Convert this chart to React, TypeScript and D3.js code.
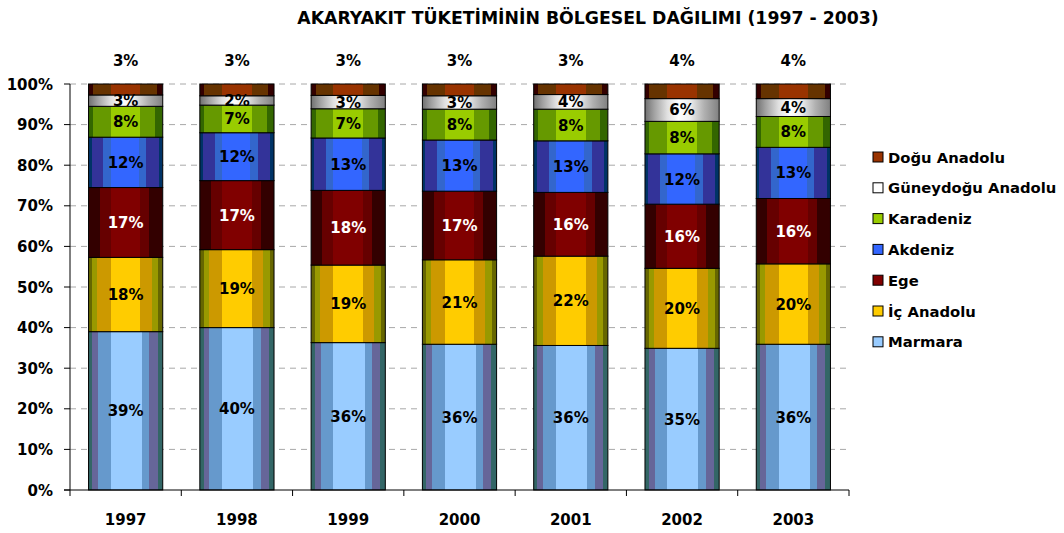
import React from "react";
import * as d3 from "d3";

const years = ["1997", "1998", "1999", "2000", "2001", "2002", "2003"];
const seriesNames = ["Marmara", "İç Anadolu", "Ege", "Akdeniz", "Karadeniz", "Güneydoğu Anadolu", "Doğu Anadolu"];
const marmara = [39.0, 40.0, 36.3, 35.9, 35.6, 34.9, 35.9];
const icAnadolu = [18.3, 19.2, 19.1, 20.8, 22.0, 19.7, 19.8];
const ege = [17.2, 17.0, 18.4, 16.9, 15.7, 15.8, 16.1];
const akdeniz = [12.4, 11.8, 12.9, 12.6, 12.7, 12.4, 12.6];
const karadeniz = [7.6, 6.8, 7.2, 7.6, 7.8, 8.0, 7.6];
const guneydogu = [2.8, 2.3, 3.3, 3.3, 3.6, 5.6, 4.4];
const dogu = [2.7, 2.9, 2.8, 2.9, 2.6, 3.6, 3.6];
const yTicks = [0, 10, 20, 30, 40, 50, 60, 70, 80, 90, 100];

const seriesValues = [marmara, icAnadolu, ege, akdeniz, karadeniz, guneydogu, dogu];

const stripes: [number, string][][] = [
  [[0, "#336666"], [0.05, "#666699"], [0.13, "#6699CC"], [0.3, "#99CCFF"], [0.72, "#6699CC"], [0.82, "#666699"], [0.93, "#336666"]],
  [[0, "#666600"], [0.05, "#999900"], [0.12, "#CC9900"], [0.3, "#FFCC00"], [0.7, "#CC9900"], [0.85, "#999900"], [0.94, "#666600"]],
  [[0, "#330000"], [0.15, "#660000"], [0.3, "#800000"], [0.7, "#660000"], [0.82, "#330000"]],
  [[0, "#003366"], [0.04, "#333399"], [0.2, "#3366CC"], [0.3, "#3366FF"], [0.68, "#3366CC"], [0.78, "#333399"], [0.95, "#003366"]],
  [[0, "#336600"], [0.06, "#669900"], [0.3, "#99CC00"], [0.7, "#669900"], [0.9, "#336600"]],
  [],
  [[0, "#330000"], [0.06, "#663300"], [0.3, "#993300"], [0.7, "#663300"], [0.92, "#330000"]],
];
const legendColors = ["#99CCFF", "#FFCC00", "#800000", "#3366FF", "#99CC00", "#FFFFFF", "#993300"];
const labelColors = ["#000", "#000", "#fff", "#000", "#000", "#000", "#000"];

const W = 1064, H = 533;
const left = 70, right = 849, top = 84, bottom = 490;
const font = "'DejaVu Sans', 'Liberation Sans', Arial, sans-serif";

export default function App() {
  const x = d3.scaleBand().domain(years).range([left, right]).padding(0);
  const y = d3.scaleLinear().domain([0, 100]).range([bottom, top]);
  const step = x.step();
  const barW = step * 2 / 3;

  const table = years.map((yr, i) => {
    const row: any = { year: yr };
    seriesNames.forEach((s, k) => (row[s] = seriesValues[k][i]));
    return row;
  });
  const stacked = d3.stack<any>().keys(seriesNames)(table);

  const gradDefs = seriesNames.map((s, k) => {
    const st = stripes[k];
    const stops: React.ReactNode[] = [];
    if (st.length === 0) {
      const g = [[0, "#707070"], [0.12, "#A0A0A0"], [0.3, "#E0E0E0"], [0.45, "#FFFFFF"], [0.6, "#F0F0F0"], [0.8, "#B0B0B0"], [1, "#808080"]];
      g.forEach(([o, c], j) => stops.push(<stop key={j} offset={o as number} stopColor={c as string} />));
    } else {
      st.forEach(([o, c], j) => {
        const end = j < st.length - 1 ? st[j + 1][0] : 1;
        stops.push(<stop key={j + "a"} offset={o} stopColor={c} />);
        stops.push(<stop key={j + "b"} offset={end} stopColor={c} />);
      });
    }
    return (
      <linearGradient id={"g" + k} key={k} x1="0" x2="1" y1="0" y2="0">
        {stops}
      </linearGradient>
    );
  });

  return (
    <svg width={W} height={H} style={{ position: "absolute", left: 0, top: 0, background: "#fff" }} fontFamily={font}>
      <defs>{gradDefs}</defs>
      <text x={588} y={24} textAnchor="middle" fontSize={17.3} fontWeight="bold" fill="#000">
        AKARYAKIT TÜKETİMİNİN BÖLGESEL DAĞILIMI (1997 - 2003)
      </text>
      {/* grid */}
      {yTicks.filter((t) => t > 0).map((t) => (
        <line key={t} x1={left} x2={right} y1={y(t)} y2={y(t)} stroke="#A8A8A8" strokeDasharray="6,5" strokeWidth={1} />
      ))}
      {/* bars */}
      {stacked.map((layer, k) => (
        <g key={k}>
          {layer.map((d, i) => {
            const x0 = (x(years[i]) as number) + step / 6;
            return (
              <rect key={i} x={x0} y={y(d[1])} width={barW} height={y(d[0]) - y(d[1])}
                fill={`url(#g${k})`} stroke="#000" strokeWidth={1} />
            );
          })}
        </g>
      ))}
      {/* labels */}
      {stacked.map((layer, k) => (
        <g key={"l" + k}>
          {layer.map((d, i) => {
            const cx = (x(years[i]) as number) + step / 2;
            const v = Math.round(d[1] - d[0]);
            const isTop = k === seriesNames.length - 1;
            const cy = isTop ? 60 : (y(d[0]) + y(d[1])) / 2;
            return (
              <text key={i} x={cx} y={cy + 5.5} textAnchor="middle" fontSize={15} fontWeight="bold"
                fill={isTop ? "#000" : labelColors[k]}>
                {v}%
              </text>
            );
          })}
        </g>
      ))}
      {/* axes */}
      <line x1={left} x2={left} y1={top} y2={bottom} stroke="#000" />
      {yTicks.map((t) => (
        <g key={"yt" + t}>
          <line x1={left - 6} x2={left} y1={y(t)} y2={y(t)} stroke="#000" />
          <text x={53} y={y(t) + 5.5} textAnchor="end" fontSize={15} fontWeight="bold">{t}%</text>
        </g>
      ))}
      <line x1={left - 6} x2={right} y1={bottom} y2={bottom} stroke="#000" />
      {years.map((yr, i) => (
        <g key={"xt" + yr}>
          <line x1={(x(yr) as number) + step} x2={(x(yr) as number) + step} y1={bottom} y2={bottom + 6} stroke="#000" />
          <text x={(x(yr) as number) + step / 2} y={525} textAnchor="middle" fontSize={15} fontWeight="bold">{yr}</text>
        </g>
      ))}
      <line x1={left} x2={left} y1={bottom} y2={bottom + 6} stroke="#000" />
      {/* legend */}
      {seriesNames.slice().reverse().map((s, j) => {
        const k = seriesNames.length - 1 - j;
        const cy = 157 + j * 30.8;
        return (
          <g key={"lg" + k}>
            <rect x={873} y={cy - 5} width={10} height={10} fill={legendColors[k]} stroke="#000" strokeWidth={1} />
            <text x={888} y={cy + 5.5} fontSize={14.8} fontWeight="bold">{s}</text>
          </g>
        );
      })}
    </svg>
  );
}
